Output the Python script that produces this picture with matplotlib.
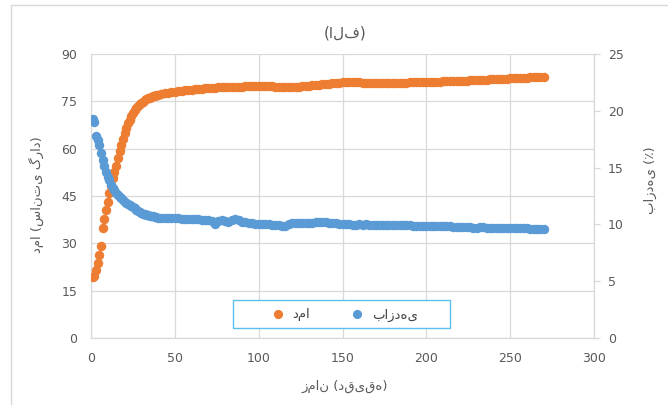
import matplotlib
matplotlib.use("Agg")
import matplotlib.pyplot as plt
from matplotlib.lines import Line2D
from matplotlib.patches import Rectangle

# ── Data ────────────────────────────────────────────────────────────────
# time in minutes: every minute for the warm-up, then every 2 minutes
minutes = list(range(1, 41)) + list(range(42, 271, 2))

temp_c = [
    19.2, 19.6, 21.5, 23.8, 26.3, 29.3, 34.8, 37.8, 40.5, 43.2,
    46.0, 48.3, 50.6, 52.6, 54.6, 57.2, 59.2, 61.2, 63.2, 65.0,
    66.6, 68.0, 69.2, 70.4, 71.3, 72.2, 72.9, 73.5, 74.0, 74.5,
    74.9, 75.3, 75.6, 75.9, 76.2, 76.4, 76.6, 76.8, 77.0, 77.1,
    # from minute 42, every 2 minutes
    77.3, 77.5, 77.7, 77.9, 78.1, 78.2, 78.3, 78.5, 78.6, 78.7,
    78.8, 78.9, 79.0, 79.1, 79.2, 79.3, 79.3, 79.4, 79.4, 79.5,
    79.5, 79.6, 79.6, 79.7, 79.7, 79.8, 79.8, 79.8, 79.9, 79.9,
    79.9, 79.9, 79.8, 79.8, 79.7, 79.7, 79.7, 79.6, 79.6, 79.6,
    79.6, 79.7, 79.8, 79.9, 80.0, 80.1, 80.2, 80.3, 80.4, 80.5,
    80.6, 80.7, 80.8, 80.9, 81.0, 81.0, 81.1, 81.1, 81.1, 81.0,
    80.9, 80.9, 80.9, 80.9, 80.9, 80.9, 80.9, 80.9, 80.9, 80.9,
    80.9, 80.9, 80.9, 80.9, 81.0, 81.0, 81.0, 81.0, 81.0, 81.1,
    81.1, 81.1, 81.2, 81.2, 81.3, 81.3, 81.4, 81.4, 81.5, 81.5,
    81.6, 81.6, 81.7, 81.7, 81.8, 81.8, 81.9, 81.9, 82.0, 82.0,
    82.1, 82.1, 82.2, 82.2, 82.3, 82.3, 82.4, 82.4, 82.5, 82.5,
    82.6, 82.6, 82.7, 82.7, 82.8,
]

efficiency = [
    19.30, 19.00, 17.80, 17.40, 17.00, 16.30, 15.70, 15.10, 14.60, 14.20,
    13.90, 13.50, 13.20, 13.00, 12.80, 12.60, 12.45, 12.30, 12.15, 12.00,
    11.90, 11.80, 11.70, 11.60, 11.50, 11.40, 11.30, 11.20, 11.10, 11.00,
    10.95, 10.90, 10.85, 10.80, 10.75, 10.70, 10.70, 10.65, 10.65, 10.60,
    # from minute 42, every 2 minutes
    10.60, 10.58, 10.56, 10.55, 10.54, 10.52, 10.50, 10.50, 10.48, 10.46,
    10.45, 10.44, 10.42, 10.40, 10.38, 10.30, 10.05, 10.30, 10.35, 10.30,
    10.25, 10.35, 10.45, 10.40, 10.25, 10.20, 10.15, 10.10, 10.05, 10.00,
    10.02, 10.05, 10.00, 9.95, 9.98, 9.95, 9.90, 9.88, 10.00, 10.08,
    10.10, 10.12, 10.12, 10.14, 10.15, 10.16, 10.17, 10.18, 10.18, 10.18,
    10.15, 10.12, 10.08, 10.05, 10.02, 10.00, 10.00, 9.98, 9.98, 10.00,
    9.98, 10.00, 9.97, 9.97, 9.96, 9.96, 9.95, 9.95, 9.95, 9.94,
    9.93, 9.93, 9.92, 9.92, 9.91, 9.90, 9.90, 9.90, 9.89, 9.89,
    9.88, 9.87, 9.86, 9.85, 9.84, 9.83, 9.82, 9.81, 9.80, 9.80,
    9.79, 9.78, 9.76, 9.65, 9.72, 9.78, 9.74, 9.72, 9.71, 9.71,
    9.70, 9.69, 9.68, 9.68, 9.67, 9.66, 9.66, 9.65, 9.65, 9.64,
    9.63, 9.62, 9.61, 9.60, 9.60,
]

x_ticks = [0, 50, 100, 150, 200, 250, 300]
temp_ticks = [0, 15, 30, 45, 60, 75, 90]
eff_ticks = [0, 5, 10, 15, 20, 25]

TITLE = "(الف)"
XLABEL = "زمان (دقیقه)"
YLABEL = "دما (سانتی گراد)"
Y2LABEL = "بازدهی (٪)"
LBL_TEMP = "دما"
LBL_EFF = "بازدهی"

# ── Style ────────────────────────────────────────────────────────────────
ORANGE = "#ED7D31"
BLUE = "#5B9BD5"
GRID = "#D9D9D9"
TEXT = "#595959"

plt.rcParams.update({
    "font.family": ["DejaVu Sans"],
    "font.size": 9,
})

W, H = 668, 405
fig = plt.figure(figsize=(W / 100, H / 100), dpi=100)
fig.patch.set_facecolor("white")

# chart-area border (top and left edges are visible)
fig.add_artist(Line2D([11 / W, 11 / W, 1.0], [0.0, 1 - 5 / H, 1 - 5 / H],
                      transform=fig.transFigure, color=GRID, lw=1.0))

ax = fig.add_axes([91 / W, 67 / H, 503 / W, 284 / H])
ax2 = ax.twinx()

ax.plot(minutes, temp_c, "o", color=ORANGE, ms=6.8, mec="none", zorder=3)
ax2.plot(minutes, efficiency, "o", color=BLUE, ms=6.8, mec="none", zorder=3)

ax.set_xlim(0, 300)
ax.set_ylim(0, 90)
ax2.set_ylim(0, 25)
ax.set_xticks(x_ticks)
ax.set_yticks(temp_ticks)
ax2.set_yticks(eff_ticks)

ax.grid(True, color=GRID, lw=0.9, zorder=0)
ax.set_axisbelow(True)
for s in ["top", "right"]:
    ax.spines[s].set_visible(False)
for s in ["left", "bottom"]:
    ax.spines[s].set_color(GRID)
    ax.spines[s].set_linewidth(0.9)
for s in ["top", "left", "bottom"]:
    ax2.spines[s].set_visible(False)
ax2.spines["right"].set_color(GRID)
ax2.spines["right"].set_linewidth(0.9)

ax.tick_params(axis="y", length=0, pad=10, labelcolor=TEXT, labelsize=9)
ax.tick_params(axis="x", length=0, pad=10, labelcolor=TEXT, labelsize=9)
ax2.tick_params(axis="y", length=4, width=0.9, color=GRID, pad=6,
                labelcolor=TEXT, labelsize=9)

fig.text(345 / W, 1 - 33 / H, TITLE, ha="center", va="center",
         fontsize=11, color=TEXT)
fig.text(345 / W, 1 - 386 / H, XLABEL, ha="center", va="center",
         fontsize=9.5, color=TEXT)
fig.text(36 / W, 1 - 195 / H, YLABEL, ha="center", va="center",
         rotation=90, fontsize=9.5, color=TEXT)
fig.text(650 / W, 1 - 180 / H, Y2LABEL, ha="center", va="center",
         rotation=90, fontsize=9.5, color=TEXT)

# legend box
fig.add_artist(Rectangle((233 / W, 1 - 328 / H), 217 / W, 28 / H,
                         transform=fig.transFigure, facecolor="white",
                         edgecolor="#5BC0EB", lw=1.0, zorder=4))
handles = [
    Line2D([], [], ls="none", marker="o", ms=6.6, color=ORANGE, mec="none"),
    Line2D([], [], ls="none", marker="o", ms=6.6, color=BLUE, mec="none"),
]
leg = fig.legend(handles, [LBL_TEMP, LBL_EFF], loc="center",
                 bbox_to_anchor=(345 / W, 1 - 315 / H), ncol=2, frameon=False,
                 handlelength=0.8, handletextpad=0.7, columnspacing=3.2,
                 fontsize=9.5, labelcolor="#404040")
leg.set_zorder(5)

fig.savefig("out.png", dpi=100, facecolor="white")
